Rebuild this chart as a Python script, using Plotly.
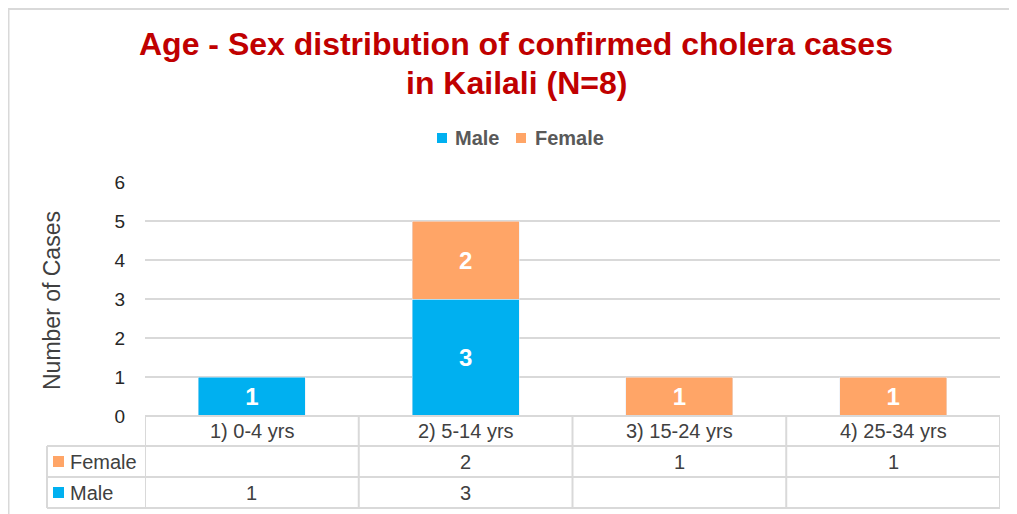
import plotly.graph_objects as go

# ---- data ----
categories = ["1) 0-4 yrs", "2) 5-14 yrs", "3) 15-24 yrs", "4) 25-34 yrs"]
series_names = ["Male", "Female"]
male = [1, 3, None, None]
female = [None, 2, 1, 1]
y_ticks = [0, 1, 2, 3, 4, 5, 6]
title_lines = ["Age - Sex distribution of confirmed cholera cases", "in Kailali (N=8)"]

MALE_C = "#00B0F0"
FEMALE_C = "#FFA567"
GRID_C = "#D9D9D9"
TXT_C = "#404040"
FONT = "Liberation Sans, Arial, sans-serif"

# page body has an 8px margin; work in window pixels and convert
OFF = 8
W, H = 1017 - OFF, 514 - OFF
PL, PR, PT, PB = 145, 1000, 182, 416          # plot area in window pixels
L, R, T, B = PL - OFF, W - (PR - OFF), PT - OFF, H - (PB - OFF)
PW, PH = PR - PL, PB - PT


def fx(xpx):
    return (xpx - PL) / PW


def fy(ypx):
    return 1 - (ypx - PT) / PH


fig = go.Figure()
for name, vals, col in [("Male", male, MALE_C), ("Female", female, FEMALE_C)]:
    fig.add_trace(go.Bar(x=categories, y=vals, name=name, marker_color=col, width=0.5,
                         texttemplate="%{y}", textposition="inside", insidetextanchor="middle",
                         textfont=dict(color="white", size=24, family=FONT, weight="bold"),
                         showlegend=False))

shapes = []
annotations = []

# chart border (left/top edge)
shapes.append(dict(type="rect", xref="paper", yref="paper", x0=fx(OFF + 0.5), x1=fx(1040),
                   y0=fy(540), y1=fy(9), line=dict(color=GRID_C, width=2), layer="below"))

# title
for line, yc in zip(title_lines, [44, 83]):
    annotations.append(dict(x=fx(516), y=fy(yc), xref="paper", yref="paper", text=f"<b>{line}</b>",
                            xanchor="center", yanchor="middle", showarrow=False,
                            font=dict(size=32, color="#C00000", family=FONT)))

# custom legend
leg = [("Male", MALE_C, 437, 453), ("Female", FEMALE_C, 516, 533)]
for name, col, mx, tx in leg:
    shapes.append(dict(type="rect", xref="paper", yref="paper", x0=fx(mx), x1=fx(mx + 10),
                       y0=fy(143), y1=fy(133), fillcolor=col, line=dict(width=0)))
    annotations.append(dict(x=fx(tx), y=fy(138), xref="paper", yref="paper", text=f"<b>{name}</b>",
                            xanchor="left", yanchor="middle", showarrow=False,
                            font=dict(size=20, color="#595959", family=FONT)))

# data table
row_y = [416, 446, 477, 508]
n = len(categories)
shapes.append(dict(type="line", xref="x", yref="paper", x0=-0.5, x1=n - 0.5,
                   y0=fy(row_y[0]), y1=fy(row_y[0]), line=dict(color=GRID_C, width=2)))
for yy in row_y[1:]:
    shapes.append(dict(type="line", xref="paper", yref="paper", x0=fx(47), x1=1,
                       y0=fy(yy), y1=fy(yy), line=dict(color=GRID_C, width=2)))
for i in range(n + 1):
    shapes.append(dict(type="line", xref="x", yref="paper", x0=i - 0.5, x1=i - 0.5,
                       y0=fy(row_y[0]), y1=fy(row_y[-1]), line=dict(color=GRID_C, width=2)))
shapes.append(dict(type="line", xref="paper", yref="paper", x0=fx(47), x1=fx(47),
                   y0=fy(row_y[1]), y1=fy(row_y[-1]), line=dict(color=GRID_C, width=2)))

TB_FONT = dict(size=20, color=TXT_C, family=FONT)
for i, c in enumerate(categories):
    annotations.append(dict(x=i, y=fy((row_y[0] + row_y[1]) / 2), xref="x", yref="paper",
                            xanchor="center", yanchor="middle",
                            text=c, showarrow=False, font=TB_FONT))
rows = [("Female", female, FEMALE_C, (row_y[1] + row_y[2]) / 2),
        ("Male", male, MALE_C, (row_y[2] + row_y[3]) / 2)]
for name, vals, col, yc in rows:
    shapes.append(dict(type="rect", xref="paper", yref="paper", x0=fx(53), x1=fx(64),
                       y0=fy(yc + 5.5), y1=fy(yc - 5.5), fillcolor=col, line=dict(width=0)))
    annotations.append(dict(x=fx(68), y=fy(yc), xref="paper", yref="paper", xanchor="left",
                            yanchor="middle", text=name, showarrow=False, font=TB_FONT))
    for i, v in enumerate(vals):
        if v is not None:
            annotations.append(dict(x=i, y=fy(yc), xref="x", yref="paper", text=str(v),
                                    xanchor="center", yanchor="middle",
                                    showarrow=False, font=TB_FONT))

# y-axis title
annotations.append(dict(x=fx(52), y=fy(301), xref="paper", yref="paper", text="Number of Cases",
                        xanchor="center", yanchor="middle", textangle=-90, showarrow=False,
                        font=dict(size=23, color=TXT_C, family=FONT)))

fig.update_layout(
    width=W, height=H,
    margin=dict(l=L, r=R, t=T, b=B, pad=0, autoexpand=False),
    paper_bgcolor="white", plot_bgcolor="white",
    barmode="stack", showlegend=False,
    xaxis=dict(showticklabels=False, showgrid=False, zeroline=False, showline=False,
               range=[-0.5, n - 0.5], automargin=False),
    yaxis=dict(range=[0, 6], tickvals=y_ticks, showgrid=True, gridcolor=GRID_C, gridwidth=2,
               zeroline=False, showline=False, ticks="", automargin=False,
               tickfont=dict(size=19, color="#262626", family=FONT), ticklabelstandoff=19),
    shapes=shapes, annotations=annotations,
)

fig.write_html("out.html")
